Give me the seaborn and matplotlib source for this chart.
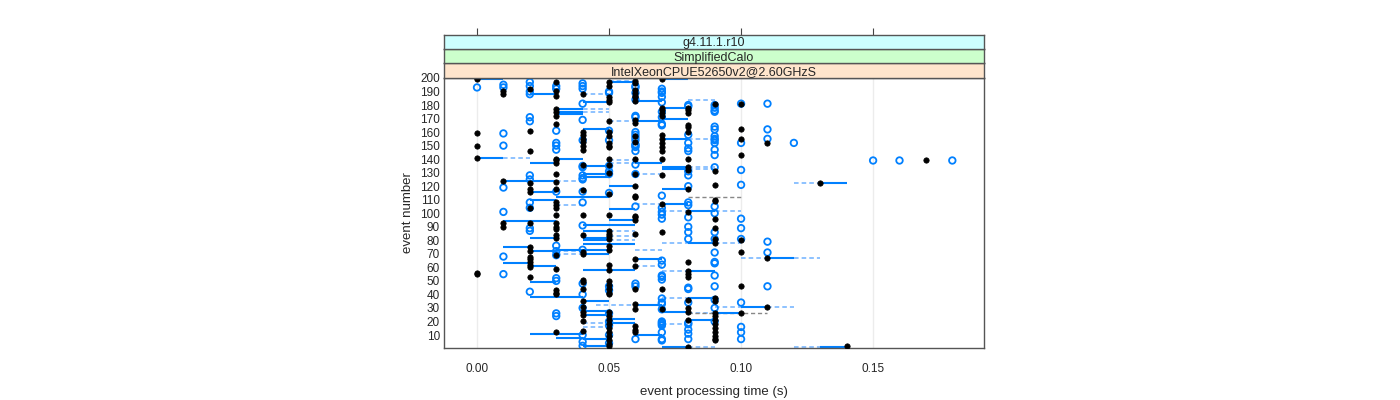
import pandas as pd
import seaborn as sns
import matplotlib.pyplot as plt

# time levels (s) and the events that have a point at each level
times = [0.00, 0.01, 0.02, 0.03, 0.04, 0.05, 0.06, 0.07, 0.08, 0.09,
         0.10, 0.11, 0.12, 0.13, 0.14, 0.15, 0.16, 0.17, 0.18]

black_events = [
    [200, 199, 159, 150, 141, 56, 55],
    [190, 188, 124, 93, 90],
    [192, 161, 146, 122, 118, 116, 104, 93, 75, 72, 68, 66, 64, 62, 60, 53],
    [197, 190, 187, 177, 175, 172, 166, 140, 139, 137, 129, 123, 118, 108, 106, 104,
     99, 93, 90, 88, 84, 82, 69, 59, 43, 41, 40, 12],
    [188, 160, 158, 155, 153, 150, 147, 136, 117, 99, 84, 71, 70, 51, 49, 44, 35,
     31, 27, 25, 20, 13],
    [197, 194, 186, 184, 182, 168, 160, 157, 152, 150, 149, 140, 136, 130, 114, 99,
     87, 85, 83, 81, 76, 73, 62, 58, 50, 47, 44, 41, 40, 27, 24, 21, 18, 15, 12, 9,
     6, 3, 2],
    [198, 196, 191, 189, 187, 186, 183, 169, 167, 157, 153, 140, 129, 120, 113, 112,
     98, 97, 95, 85, 66, 61, 44, 33, 29, 17, 14, 12],
    [199, 178, 176, 174, 172, 158, 155, 152, 149, 146, 140, 128, 107, 86, 44, 29],
    [178, 176, 174, 165, 164, 160, 140, 134, 132, 118, 101, 64, 57, 55, 53, 36, 30,
     27, 21, 1],
    [181, 131, 121, 110, 109, 96, 89, 81, 78, 37, 35, 26, 24, 21, 18, 15, 12, 9, 7, 6],
    [181, 162, 155, 143, 80, 71, 46, 26],
    [152, 67, 31],
    [],
    [122],
    [2],
    [],
    [],
    [139],
    [],
]

blue_events = [
    [193],
    [195, 193, 159, 150, 119, 101, 68, 55],
    [197, 194, 190, 188, 171, 168, 128, 125, 108, 104, 89, 87, 42],
    [194, 192, 161, 152, 150, 147, 116, 76, 72, 69, 52, 50, 26, 24],
    [196, 194, 192, 181, 169, 154, 135, 134, 128, 126, 125, 116, 108, 91, 73, 48,
     40, 30, 10, 5, 2],
    [190, 189, 161, 154, 135, 131, 129, 115, 46, 43, 26, 20, 17, 10, 4],
    [194, 193, 189, 184, 172, 171, 160, 158, 156, 154, 151, 150, 149, 146, 136, 129,
     105, 48, 46, 7],
    [192, 190, 189, 186, 182, 175, 171, 166, 165, 113, 104, 101, 99, 96, 65, 62, 54,
     53, 51, 37, 34, 33, 29, 20, 19, 18, 17, 12, 7, 6],
    [180, 179, 158, 152, 148, 146, 131, 128, 120, 108, 106, 97, 90, 86, 81, 45, 44,
     34, 19, 18, 14, 11, 7],
    [180, 178, 176, 175, 164, 162, 157, 155, 154, 152, 147, 143, 134, 105, 100, 86,
     81, 71, 64, 63, 54, 46, 36, 30, 20],
    [181, 152, 132, 121, 96, 89, 81, 34, 16, 12, 7],
    [181, 162, 155, 79, 71, 46],
    [152],
    [],
    [],
    [139],
    [139],
    [],
    [139],
]

# solid segments: event, start, end
solid_event = [199, 141, 188, 177, 175, 173, 140, 182, 162, 135, 197, 183, 168, 199,
               178, 170, 133, 155, 137, 137, 134, 129, 127, 122, 124, 120, 118, 116,
               112, 110, 107, 103, 102, 95, 94, 91, 87, 82, 82, 80, 78, 77, 75, 73,
               72, 70, 67, 66, 63, 61, 58, 57, 49, 38, 37, 35, 32, 31, 28, 27, 26,
               25, 22, 21, 19, 11, 10, 8, 7, 2, 1, 1]
solid_start = [0.00, 0.00, 0.02, 0.03, 0.03, 0.03, 0.03, 0.04, 0.04, 0.04, 0.05, 0.06,
               0.06, 0.07, 0.07, 0.07, 0.07, 0.07, 0.02, 0.06, 0.07, 0.04, 0.04, 0.13,
               0.01, 0.05, 0.07, 0.02, 0.03, 0.02, 0.07, 0.05, 0.08, 0.05, 0.01, 0.04,
               0.04, 0.02, 0.04, 0.04, 0.08, 0.04, 0.01, 0.03, 0.02, 0.04, 0.11, 0.06,
               0.01, 0.02, 0.04, 0.08, 0.02, 0.02, 0.08, 0.04, 0.06, 0.10, 0.04, 0.07,
               0.09, 0.04, 0.05, 0.08, 0.05, 0.02, 0.06, 0.03, 0.04, 0.04, 0.07, 0.13]
solid_end = [0.01, 0.01, 0.03, 0.04, 0.04, 0.04, 0.04, 0.05, 0.05, 0.05, 0.06, 0.07,
             0.07, 0.08, 0.08, 0.08, 0.08, 0.08, 0.03, 0.07, 0.08, 0.05, 0.05, 0.14,
             0.03, 0.06, 0.08, 0.03, 0.05, 0.03, 0.08, 0.06, 0.09, 0.06, 0.03, 0.06,
             0.05, 0.03, 0.05, 0.05, 0.09, 0.06, 0.02, 0.05, 0.03, 0.05, 0.12, 0.07,
             0.02, 0.03, 0.06, 0.09, 0.03, 0.04, 0.09, 0.05, 0.07, 0.11, 0.05, 0.08,
             0.10, 0.05, 0.06, 0.09, 0.06, 0.04, 0.07, 0.04, 0.05, 0.05, 0.08, 0.14]

# dashed segments: event, start, end
dash_event = [141, 177, 175, 188, 168, 198, 139, 184, 155, 133, 137, 134, 129, 122,
              124, 107, 106, 102, 102, 87, 83, 80, 78, 78, 73, 72, 67, 67, 61, 57,
              37, 32, 31, 31, 26, 18, 19, 16, 1, 1, 70]
dash_start = [0.01, 0.04, 0.04, 0.04, 0.05, 0.05, 0.05, 0.08, 0.08, 0.08, 0.05, 0.08,
              0.06, 0.12, 0.03, 0.06, 0.03, 0.07, 0.09, 0.05, 0.05, 0.05, 0.07, 0.09,
              0.06, 0.03, 0.10, 0.12, 0.06, 0.07, 0.07, 0.045, 0.09, 0.11, 0.08, 0.07,
              0.04, 0.04, 0.08, 0.12, 0.03]
dash_end = [0.02, 0.05, 0.05, 0.05, 0.06, 0.06, 0.06, 0.09, 0.09, 0.09, 0.06, 0.09,
            0.07, 0.13, 0.04, 0.07, 0.04, 0.08, 0.10, 0.06, 0.06, 0.06, 0.08, 0.10,
            0.07, 0.04, 0.11, 0.13, 0.07, 0.08, 0.08, 0.06, 0.10, 0.12, 0.09, 0.08,
            0.05, 0.05, 0.09, 0.13, 0.04]

gray_dash_event = [26, 112]
gray_dash_start = [0.08, 0.08]
gray_dash_end = [0.11, 0.10]

strip_labels = ["IntelXeonCPUE52650v2@2.60GHzS", "SimplifiedCalo", "g4.11.1.r10"]
strip_colors = ["#ffe5cc", "#ccffcc", "#ccffff"]

blue = "#0080ff"

rows = []
for t, evs in zip(times, black_events):
    for e in evs:
        rows.append({"time": t, "event": e})
black_df = pd.DataFrame(rows)
rows = []
for t, evs in zip(times, blue_events):
    for e in evs:
        rows.append({"time": t, "event": e})
blue_df = pd.DataFrame(rows)

sns.set_style("white")
plt.rcParams['font.family'] = ['Liberation Sans', 'DejaVu Sans']

fig = plt.figure(figsize=(14, 4), dpi=100)
W, H = 1400, 400
left, right, top, bottom = 444, 984, 77.7, 348
ax = fig.add_axes([left / W, (H - bottom) / H, (right - left) / W, (bottom - top) / H])

xlim = (-0.0125, 0.192)
ylim = (0.4, 200.2)

for x in [0.00, 0.05, 0.10, 0.15]:
    ax.axvline(x, color="#ececec", lw=1, zorder=0)

ax.hlines(dash_event, dash_start, dash_end, colors="#6fb2ff", linestyles=(0, (3, 2)), lw=1.1, zorder=2)
ax.hlines(gray_dash_event, gray_dash_start, gray_dash_end, colors="#888888", linestyles=(0, (3, 2)), lw=1, zorder=2)
ax.hlines(solid_event, solid_start, solid_end, colors=blue, lw=1.5, zorder=2)

sns.scatterplot(data=blue_df, x="time", y="event", marker="o", s=22, facecolor="none",
                edgecolor=blue, linewidth=1.3, ax=ax, zorder=3)
sns.scatterplot(data=black_df, x="time", y="event", marker="o", s=15, color="black",
                edgecolor="black", linewidth=0.5, ax=ax, zorder=4)

ax.set_xlim(*xlim)
ax.set_ylim(*ylim)
ax.set_xticks([0.00, 0.05, 0.10, 0.15])
ax.set_xticklabels(["0.00", "0.05", "0.10", "0.15"])
ax.set_yticks(list(range(10, 201, 10)))
ax.tick_params(axis="x", direction="out", length=5, width=0.8, color="#444444", labelsize=8.5, pad=6)
ax.tick_params(axis="y", length=0, labelsize=8.5, pad=3)
ax.set_xlabel("event processing time (s)", fontsize=9.5, labelpad=8)
ax.set_ylabel("event number", fontsize=9.5, labelpad=4)
for sp in ax.spines.values():
    sp.set_color("#555555")
    sp.set_linewidth(1)
ax.grid(False)
if ax.get_legend():
    ax.get_legend().remove()

# strips above the panel
strip_h = 14.3
for i, (lab, col) in enumerate(zip(strip_labels, strip_colors)):
    y_top = top - strip_h * (i + 1)
    sax = fig.add_axes([left / W, (H - (y_top + strip_h)) / H, (right - left) / W, strip_h / H])
    sax.set_facecolor(col)
    sax.set_xlim(*xlim)
    sax.set_yticks([])
    if i == len(strip_labels) - 1:
        sax.set_xticks([0.00, 0.05, 0.10, 0.15])
        sax.tick_params(axis="x", top=True, bottom=False, labeltop=False, labelbottom=False,
                        direction="out", length=5, width=0.8, color="#444444")
    else:
        sax.set_xticks([])
    for sp in sax.spines.values():
        sp.set_color("#555555")
        sp.set_linewidth(1)
    sax.text(0.5, 0.5, lab, transform=sax.transAxes, ha="center", va="center_baseline", fontsize=9)

fig.savefig("out.png", dpi=100)
